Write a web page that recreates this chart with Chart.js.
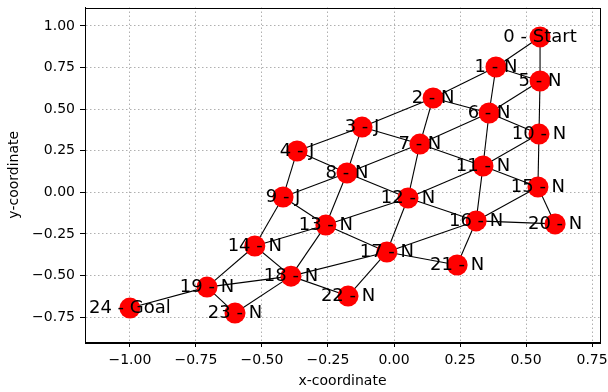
<!DOCTYPE html>
<html>
<head>
<meta charset="utf-8">
<script src="https://cdn.jsdelivr.net/npm/chart.js@4.4.0/dist/chart.umd.min.js"></script>
<style>
  html, body { margin: 0; padding: 0; background: #fff; }
  canvas { display: block; }
</style>
</head>
<body>
<canvas id="graph" width="608" height="392"></canvas>
<script>
// node positions
var nodeX = [0.553, 0.386, 0.148, -0.121, -0.367, 0.553, 0.360, 0.098, -0.178, -0.420,
	0.549, 0.337, 0.053, -0.258, -0.527, 0.545, 0.311, -0.027, -0.390, -0.708,
	0.610, 0.239, -0.174, -0.602, -1.000];
var nodeY = [0.934, 0.753, 0.567, 0.392, 0.248, 0.669, 0.477, 0.290, 0.116, -0.028,
	0.350, 0.158, -0.034, -0.197, -0.323, 0.032, -0.172, -0.359, -0.504, -0.570,
	-0.190, -0.437, -0.624, -0.726, -0.696];
var nodeTags = ['Start', 'N', 'N', 'J', 'J', 'N', 'N', 'N', 'N', 'J',
	'N', 'N', 'N', 'N', 'N', 'N', 'N', 'N', 'N', 'N',
	'N', 'N', 'N', 'N', 'Goal'];
var edges = [
	[0, 1], [0, 5], [1, 2], [1, 5], [1, 6], [2, 3], [2, 6], [2, 7], [3, 4], [3, 7], [3, 8],
	[4, 8], [4, 9], [5, 6], [5, 10], [6, 7], [6, 10], [6, 11], [7, 8], [7, 11], [7, 12],
	[8, 9], [8, 12], [8, 13], [9, 13], [9, 14], [10, 11], [10, 15], [11, 12], [11, 15], [11, 16],
	[12, 13], [12, 16], [12, 17], [13, 14], [13, 17], [13, 18], [14, 18], [14, 19],
	[15, 16], [15, 20], [16, 17], [16, 20], [16, 21], [17, 18], [17, 21], [17, 22],
	[18, 19], [18, 22], [18, 23], [19, 23], [19, 24]
];
var xTicks = [-1.00, -0.75, -0.50, -0.25, 0.00, 0.25, 0.50, 0.75];
var yTicks = [-0.75, -0.50, -0.25, 0.00, 0.25, 0.50, 0.75, 1.00];

var font = "'DejaVu Sans', sans-serif";

var datasets = [{
	label: 'nodes',
	data: nodeX.map((x, i) => ({ x: x, y: nodeY[i] })),
	pointRadius: 10.5,
	pointBackgroundColor: '#ff0000',
	pointBorderWidth: 0,
	showLine: false,
	order: 0
}];
edges.forEach(e => {
	datasets.push({
		data: [{ x: nodeX[e[0]], y: nodeY[e[0]] }, { x: nodeX[e[1]], y: nodeY[e[1]] }],
		showLine: true,
		borderColor: '#000',
		borderWidth: 1.1,
		pointRadius: 0,
		order: 1
	});
});

const fmt = v => {
	var s = Math.abs(v) < 1e-9 ? '0.00' : v.toFixed(2);
	return s.replace('-', '\u2212');
};

const nodeLabels = {
	id: 'nodeLabels',
	afterDatasetsDraw(chart) {
		var c = chart.ctx, xs = chart.scales.x, ys = chart.scales.y;
		c.save();
		c.font = '18px ' + font;
		c.fillStyle = '#000';
		c.textAlign = 'center';
		c.textBaseline = 'middle';
		nodeX.forEach((x, i) => {
			c.fillText(i + ' - ' + nodeTags[i], xs.getPixelForValue(x), ys.getPixelForValue(nodeY[i]));
		});
		c.restore();
	}
};

const frame = {
	id: 'frame',
	afterDraw(chart) {
		var a = chart.chartArea, c = chart.ctx;
		c.save();
		c.strokeStyle = '#000';
		c.lineWidth = 1;
		c.strokeRect(Math.round(a.left) + 0.5, Math.round(a.top) + 0.5,
			Math.round(a.right - a.left), Math.round(a.bottom - a.top));
		c.restore();
	}
};

const gridOpts = {
	color: '#b0b0b0',
	lineWidth: 1,
	tickColor: '#000',
	tickLength: 5,
	tickBorderDash: [],
	tickWidth: 1
};
const borderOpts = { color: '#000', width: 1, dash: [1.5, 2.5] };

new Chart(document.getElementById('graph'), {
	type: 'scatter',
	data: { datasets: datasets },
	plugins: [nodeLabels, frame],
	options: {
		responsive: false,
		animation: false,
		events: [],
		layout: { autoPadding: false, padding: { left: 0, right: 8, top: 7.5, bottom: 0 } },
		plugins: { legend: { display: false }, tooltip: { enabled: false } },
		scales: {
			x: {
				type: 'linear',
				min: -1.170,
				max: 0.780,
				afterBuildTicks: s => { s.ticks = xTicks.map(v => ({ value: v })); },
				afterFit: s => { s.height = 50; s.paddingLeft = 0; s.paddingRight = 0; },
				ticks: { callback: fmt, color: '#000', font: { family: font, size: 14 }, padding: 5, maxRotation: 0, autoSkip: false },
				grid: gridOpts,
				border: borderOpts,
				title: { display: true, text: 'x-coordinate', color: '#000', font: { family: font, size: 14 }, padding: { top: 0, bottom: 2 } }
			},
			y: {
				type: 'linear',
				min: -0.900,
				max: 1.111,
				afterBuildTicks: s => { s.ticks = yTicks.map(v => ({ value: v })); },
				afterFit: s => { s.width = 85; s.paddingTop = 0; s.paddingBottom = 0; },
				ticks: { callback: fmt, color: '#000', font: { family: font, size: 14 }, padding: 5, autoSkip: false },
				grid: gridOpts,
				border: borderOpts,
				title: { display: true, text: 'y-coordinate', color: '#000', font: { family: font, size: 14 }, padding: { top: 6, bottom: 6 } }
			}
		}
	}
});
</script>
</body>
</html>
